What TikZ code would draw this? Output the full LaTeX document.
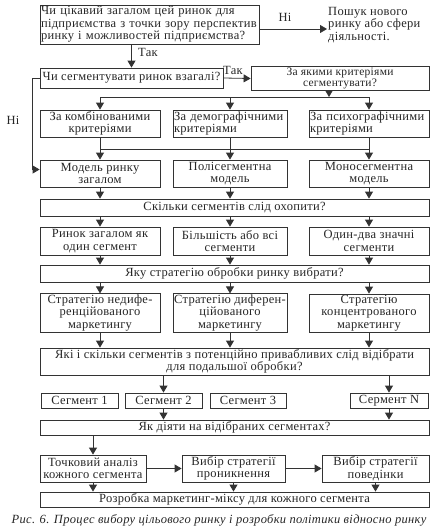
\documentclass[tikz,border=0pt]{standalone}
\usepackage{fontspec}
\setmainfont[LetterSpace=2.5]{Liberation Serif}
\usetikzlibrary{arrows.meta}
\colorlet{ln}{black!80}
\newcommand\fs{\fontsize{12.5}{12.5}\selectfont}
\newcommand\fss{\fontsize{11.5}{11.5}\selectfont}
\begin{document}
\begin{tikzpicture}[x=1pt,y=-1pt,
  box/.style={draw=ln, line width=0.8pt, inner sep=1pt, align=center, font=\fs, text=black!85},
  lbl/.style={inner sep=1pt, font=\fs, text=black!85},
  line/.style={draw=ln, line width=0.8pt},
  arr/.style={draw=ln, line width=0.8pt, -{Triangle[length=7pt,width=8pt]}}]
\useasboundingbox (0,0) rectangle (440,530);
% top
\node[box, minimum width=219, minimum height=39, text width=217, inner sep=1pt, align=left] (q1) at (149.5,24.5)
  {\mbox{Чи цікавий загалом цей ринок для}\\\mbox{підприємства з точки зору перспектив}\\\mbox{ринку і можливостей підприємства?}};
\node[lbl, align=left, anchor=west] (out) at (327,25) {Пошук нового\\ринку або сфери\\діяльності.};
\node[lbl] (no1) at (285,17) {Ні};
\draw[arr] ([yshift=-4.5pt]q1.east) -- ([yshift=-4pt]out.west);
\node[box, minimum width=183, minimum height=20] (q2) at (131.5,78) {Чи сегментувати ринок взагалі?};
\draw[arr] (q1.south -| q2.north) -- (q2.north);
\node[lbl, anchor=west] (yes1) at (137,52) {Так};
\node[box, minimum width=178, minimum height=23, font=\fss] (q3) at (340,78.5) {За якими критеріями\\сегментувати?};
\draw[arr] (q2.east) -- (q3.west);
\node[lbl, anchor=south west] (yes2) at (222,76) {Так};
% bus 1
\coordinate (b1) at (329,97);
\coordinate (b1L) at (100,97);
\coordinate (b1R) at (369,97);
\draw[arr] (q3.south -| b1) -- (b1);
\draw[line] (b1L) -- (b1R);
% criteria
\node[box, minimum width=120, minimum height=27] (cA) at (100,123.5) {За комбінованими\\критеріями};
\node[box, minimum width=114, minimum height=27, text width=112, align=left] (cB) at (230,123.5) {\mbox{За демографічними}\\критеріями};
\node[box, minimum width=120, minimum height=27, text width=118, align=left] (cC) at (369,123.5) {\mbox{За психографічними}\\критеріями};
\draw[arr] (b1L) -- (cA.north);
\draw[arr] (cB.north |- b1L) -- (cB.north);
\draw[arr] (b1R) -- (cC.north);
% bus 2
\coordinate (b2L) at (100,149);
\coordinate (b2R) at (369,149);
\draw[line] (cA.south) -- (b2L) -- (b2R) -- (cC.south);
\draw[line] (cB.south) -- (cB.south |- b2L);
% models
\node[box, minimum width=120, minimum height=27] (mA) at (100,173.5) {Модель ринку\\загалом};
\node[box, minimum width=114, minimum height=27] (mB) at (230,173.5) {Полісегментна\\модель};
\node[box, minimum width=120, minimum height=27] (mC) at (369,173.5) {Моносегментна\\модель};
\draw[arr] (b2L) -- (mA.north);
\draw[arr] (mB.north |- b2L) -- (mB.north);
\draw[arr] (b2R) -- (mC.north);
% no branch
\draw[arr] (q2.west) -- ++(-7,0) |- ([yshift=4pt]mA.west);
\node[lbl] (no2) at (13,120) {Ні};
% how many
\node[box, minimum width=389, minimum height=17] (skil) at (234.5,207.5) {Скільки сегментів слід охопити?};
\draw[arr] (mA.south) -- (mA.south |- skil.north);
\draw[arr] (mB.south) -- (mB.south |- skil.north);
\draw[arr] (mC.south) -- (mC.south |- skil.north);
\node[box, minimum width=120, minimum height=28] (rA) at (100,241) {Ринок загалом як\\один сегмент};
\node[box, minimum width=114, minimum height=28] (rB) at (230,241) {Більшість або всі\\сегменти};
\node[box, minimum width=120, minimum height=28] (rC) at (369,241) {Один-два значні\\сегменти};
\draw[arr] (skil.south -| rA.north) -- (rA.north);
\draw[arr] (skil.south -| rB.north) -- (rB.north);
\draw[arr] (skil.south -| rC.north) -- (rC.north);
\node[box, minimum width=389, minimum height=17] (yaku) at (234.5,273.5) {Яку стратегію обробки ринку вибрати?};
\draw[arr] (rA.south) -- (rA.south |- yaku.north);
\draw[arr] (rB.south) -- (rB.south |- yaku.north);
\draw[arr] (rC.south) -- (rC.south |- yaku.north);
\node[box, minimum width=120, minimum height=38] (sA) at (100,313) {Стратегію недифе-\\ренційованого\\маркетингу};
\node[box, minimum width=114, minimum height=38] (sB) at (230,313) {Стратегію диферен-\\ційованого\\маркетингу};
\node[box, minimum width=120, minimum height=38] (sC) at (369,313) {Стратегію\\концентрованого\\маркетингу};
\draw[arr] (yaku.south -| sA.north) -- (sA.north);
\draw[arr] (yaku.south -| sB.north) -- (sB.north);
\draw[arr] (yaku.south -| sC.north) -- (sC.north);
\node[box, minimum width=389, minimum height=27] (yaki) at (234.5,361.5) {Які і скільки сегментів з потенційно привабливих слід відібрати\\для подальшої обробки?};
\draw[arr] (sA.south) -- (sA.south |- yaki.north);
\draw[arr] (sB.south) -- (sB.south |- yaki.north);
\draw[arr] (sC.south) -- (sC.south |- yaki.north);
% segments
\node[box, minimum width=77, minimum height=15] (s1) at (79.5,400.5) {Сегмент 1};
\node[box, minimum width=77, minimum height=15] (s2) at (163.5,400.5) {Сегмент 2};
\node[box, minimum width=76, minimum height=15] (s3) at (248,400.5) {Сегмент 3};
\node[box, minimum width=78, minimum height=15] (sN) at (389,400.5) {Сермент N};
\draw[arr] (yaki.south -| s2.north) -- (s2.north);
\draw[arr] (yaki.south -| sN.north) -- (sN.north);
\node[box, minimum width=389, minimum height=15] (yak) at (234.5,427.5) {Як діяти на відібраних сегментах?};
\draw[arr] (s2.south) -- (s2.south |- yak.north);
\draw[arr] (sN.south) -- (sN.south |- yak.north);
% bottom
\node[box, minimum width=106, minimum height=27] (T) at (93,468.5) {Точковий аналіз\\кожного сегмента};
\node[box, minimum width=103, minimum height=27] (V1) at (233.5,468.5) {Вибір стратегії\\проникнення};
\node[box, minimum width=107, minimum height=27] (V2) at (375.5,468.5) {Вибір стратегії\\поведінки};
\draw[arr] (yak.south -| T.north) -- (T.north);
\draw[arr] (T.east) -- (V1.west);
\draw[arr] (V1.east) -- (V2.west);
\node[box, minimum width=389, minimum height=15] (last) at (234.5,499.5) {Розробка маркетинг-міксу для кожного сегмента};
\draw[arr] (T.south) -- (T.south |- last.north);
\draw[arr] (V1.south) -- (V1.south |- last.north);
\draw[arr] (V2.south) -- (V2.south |- last.north);
\node[lbl, font=\fs\itshape] (cap) at (219,520) {Рис. 6. Процес вибору цільового ринку і розробки політики відносно ринку};
\end{tikzpicture}
\end{document}
